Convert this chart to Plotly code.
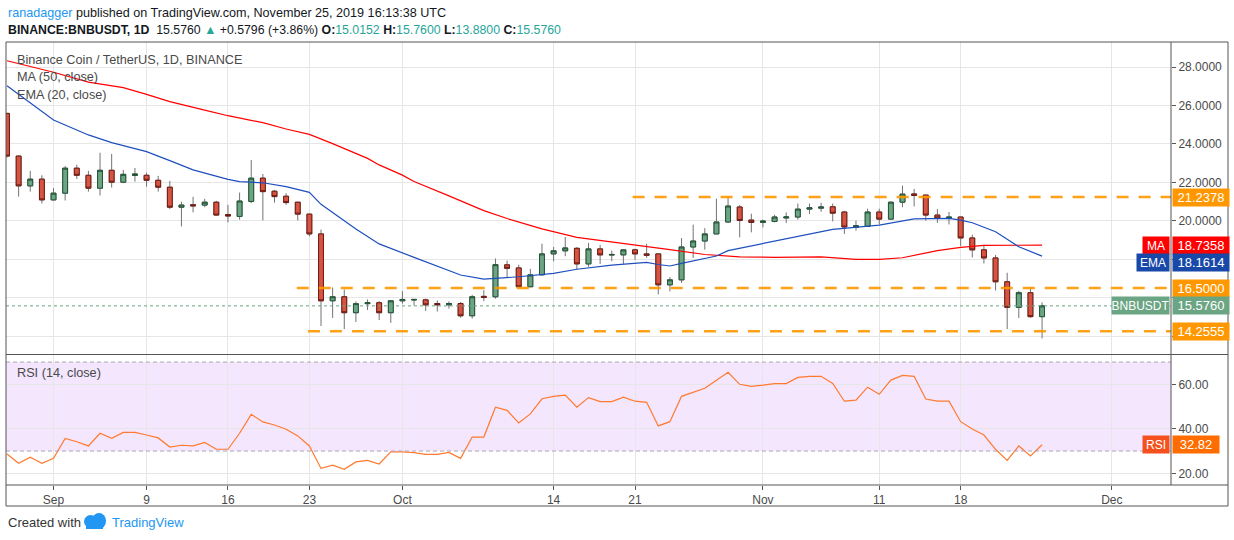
import pandas as pd
import plotly.graph_objects as go
from plotly.subplots import make_subplots

W, H = 1234, 540
FONT = "Liberation Sans"

######## daily candles BNB/USDT, Aug 28 -> Nov 25 2019
dates = pd.date_range("2019-08-28", "2019-11-25", freq="D")
opens = [25.59, 23.37, 21.82, 22.17, 21.09, 21.44, 22.74, 22.37, 21.70, 22.63,
         22.01, 22.36, 22.37, 22.11, 21.75, 20.71, 20.84, 20.82, 20.97, 20.33,
         20.23, 21.01, 22.22, 21.54, 21.28, 20.97, 20.35, 19.32, 15.84, 16.05,
         15.22, 15.69, 15.74, 15.22, 15.84, 15.88, 15.89, 15.70, 15.63, 15.70,
         15.06, 16.07, 16.05, 17.71, 17.55, 16.57, 17.19, 18.28, 18.44, 18.57,
         17.76, 18.54, 18.22, 18.23, 18.49, 18.28, 18.28, 16.67, 16.93, 18.64,
         18.95, 19.32, 19.94, 20.72, 20.04, 19.92, 19.97, 20.15, 20.20, 20.61,
         20.66, 20.73, 20.46, 19.66, 19.71, 20.46, 20.09, 20.97, 21.40, 21.34,
         20.30, 20.13, 20.20, 19.11, 18.49, 18.07, 16.83, 15.50, 16.26, 15.0152]
highs = [25.62, 23.40, 22.60, 22.37, 21.70, 22.85, 22.92, 22.60, 23.54, 23.48,
         22.65, 22.75, 22.51, 22.34, 22.08, 20.99, 21.25, 21.15, 21.04, 20.83,
         21.47, 23.17, 22.44, 21.61, 21.44, 20.97, 20.35, 19.54, 16.53, 16.43,
         15.81, 15.91, 15.82, 15.86, 16.34, 15.91, 15.95, 15.86, 15.81, 15.77,
         16.15, 16.39, 18.04, 17.93, 17.72, 17.50, 18.81, 18.64, 19.16, 18.64,
         18.85, 18.75, 18.45, 18.49, 18.55, 18.81, 18.28, 17.08, 19.10, 19.80,
         19.62, 21.15, 21.23, 20.83, 20.37, 20.06, 20.32, 20.44, 20.90, 20.90,
         20.94, 20.90, 20.52, 20.01, 20.63, 20.63, 20.99, 21.83, 21.66, 21.34,
         20.61, 20.46, 20.20, 19.28, 18.75, 18.23, 17.30, 16.36, 16.55, 15.76]
lows = [23.30, 21.26, 21.52, 20.90, 21.06, 21.06, 22.18, 21.52, 21.32, 21.73,
        21.96, 22.04, 21.78, 21.52, 20.61, 19.71, 20.44, 20.71, 20.28, 19.92,
        20.06, 20.92, 20.02, 20.95, 20.83, 20.02, 19.19, 14.53, 14.95, 14.37,
        14.74, 15.36, 14.84, 14.69, 15.69, 15.60, 15.31, 15.28, 15.43, 14.96,
        14.91, 15.82, 15.95, 17.07, 16.57, 16.57, 17.19, 17.89, 18.16, 17.47,
        17.61, 17.76, 17.90, 17.76, 17.97, 18.07, 16.18, 16.33, 16.77, 18.07,
        18.50, 19.32, 19.89, 19.14, 19.40, 19.66, 19.92, 19.89, 20.06, 20.35,
        20.47, 19.97, 19.32, 19.49, 19.68, 19.81, 20.05, 20.71, 20.75, 20.01,
        19.89, 19.81, 18.69, 18.10, 17.78, 16.38, 14.37, 14.94, 14.96, 13.88]
closes = [23.37, 21.82, 22.17, 21.09, 21.44, 22.74, 22.37, 21.70, 22.63, 22.01,
          22.42, 22.44, 22.11, 21.75, 20.71, 20.82, 20.78, 20.97, 20.30, 20.25,
          21.03, 22.22, 21.52, 21.26, 20.95, 20.35, 19.32, 15.84, 16.05, 15.22,
          15.69, 15.74, 15.22, 15.84, 15.91, 15.91, 15.63, 15.63, 15.70, 15.06,
          16.05, 16.02, 17.72, 17.53, 16.57, 17.19, 18.28, 18.44, 18.59, 17.76,
          18.54, 18.23, 18.25, 18.49, 18.28, 18.21, 16.67, 16.93, 18.64, 18.95,
          19.32, 19.94, 20.77, 20.02, 19.92, 19.99, 20.20, 20.20, 20.61, 20.68,
          20.72, 20.40, 19.68, 19.75, 20.46, 20.09, 20.97, 21.39, 21.32, 20.30,
          20.15, 20.20, 19.11, 18.49, 18.07, 16.83, 15.50, 16.26, 15.0152, 15.576]

rsi = [28.7, 24.5, 27.2, 24.5, 26.7, 35.7, 34.2, 32.3, 38.0, 35.7,
       38.4, 38.4, 37.2, 35.9, 31.8, 32.6, 32.3, 33.9, 30.8, 30.8,
       38.0, 46.5, 43.1, 41.7, 39.8, 36.8, 32.3, 22.2, 23.7, 21.8,
       25.1, 25.8, 24.2, 29.6, 29.6, 29.3, 28.5, 28.5, 29.4, 26.7,
       36.3, 36.3, 49.7, 48.3, 42.6, 46.7, 53.5, 54.6, 55.1, 49.7,
       54.0, 52.2, 52.2, 54.2, 52.4, 51.9, 41.3, 43.2, 54.6, 56.5,
       58.2, 61.8, 65.4, 60.0, 59.1, 59.6, 60.3, 60.3, 63.1, 63.6,
       63.6, 60.4, 52.4, 52.9, 58.7, 55.5, 61.9, 64.0, 63.6, 53.4,
       52.4, 52.4, 43.2, 39.9, 37.2, 30.8, 25.8, 32.3, 27.8, 32.82]

ma_dates = ["2019-08-28", "2019-08-30", "2019-09-01", "2019-09-04", "2019-09-07",
            "2019-09-09", "2019-09-11", "2019-09-14", "2019-09-16", "2019-09-19",
            "2019-09-21", "2019-09-23", "2019-09-25", "2019-09-28", "2019-09-29",
            "2019-10-01", "2019-10-02", "2019-10-05", "2019-10-08", "2019-10-10",
            "2019-10-13", "2019-10-16", "2019-10-19", "2019-10-21", "2019-10-24",
            "2019-10-27", "2019-10-30", "2019-11-02", "2019-11-06", "2019-11-09",
            "2019-11-11", "2019-11-13", "2019-11-16", "2019-11-18", "2019-11-20",
            "2019-11-25"]
ma_vals = [28.33, 28.03, 27.73, 27.22, 26.93, 26.58, 26.20, 25.76, 25.47, 25.11,
           24.78, 24.50, 24.02, 23.25, 22.91, 22.38, 22.05, 21.30, 20.53, 20.12,
           19.58, 19.14, 18.91, 18.76, 18.50, 18.25, 18.13, 18.10, 18.13, 18.00,
           18.00, 18.08, 18.45, 18.62, 18.72, 18.7358]

ema_dates = ["2019-08-28", "2019-08-30", "2019-09-01", "2019-09-02", "2019-09-04",
             "2019-09-06", "2019-09-09", "2019-09-11", "2019-09-13", "2019-09-16",
             "2019-09-17", "2019-09-19", "2019-09-21", "2019-09-23", "2019-09-24",
             "2019-09-27", "2019-09-29", "2019-10-02", "2019-10-06", "2019-10-08",
             "2019-10-11", "2019-10-14", "2019-10-16", "2019-10-19", "2019-10-22",
             "2019-10-23", "2019-10-24", "2019-10-25", "2019-10-28", "2019-10-29",
             "2019-11-01", "2019-11-04", "2019-11-07", "2019-11-11", "2019-11-14",
             "2019-11-17", "2019-11-18", "2019-11-19", "2019-11-21", "2019-11-22",
             "2019-11-23", "2019-11-25"]
ema_vals = [27.03, 26.12, 25.25, 24.99, 24.47, 24.07, 23.60, 23.13, 22.65, 22.16,
            22.04, 21.98, 21.78, 21.48, 20.86, 19.58, 18.80, 18.10, 17.18, 16.97,
            17.09, 17.27, 17.48, 17.70, 17.84, 17.73, 17.65, 17.79, 18.17, 18.45,
            18.83, 19.17, 19.56, 19.78, 20.10, 20.13, 20.04, 19.90, 19.43, 19.04,
            18.65, 18.1614]

# horizontal support / resistance lines
level_vals = [21.2378, 16.5, 14.2555]
level_starts = ["2019-10-20 19:00", "2019-09-21 22:00", "2019-09-22 21:00"]

grid_dates = ["2019-09-01", "2019-09-09", "2019-09-16", "2019-09-23", "2019-10-01",
              "2019-10-14", "2019-10-21", "2019-11-01", "2019-11-11", "2019-11-18",
              "2019-12-01"]
grid_labels = ["Sep", "9", "16", "23", "Oct", "14", "21", "Nov", "11", "18", "Dec"]

# price scale: 14/16/18 sit under the last-value boxes, so no text is shown for them
price_ticks = [14, 16, 18, 20, 22, 24, 26, 28]
price_labels = ["", "", "", "20.0000", "22.0000", "24.0000", "26.0000", "28.0000"]
##############################

UP, UP_EDGE = "#6BA583", "#225437"
DN, DN_EDGE = "#D75442", "#6F1B12"
WICK = "#737375"
ORANGE = "#FF9800"
MA_COL, EMA_COL = "#FF0000", "#1E4FBF"
RSI_COL = "#FF7A2F"
GRID = "#E6E6E6"
TXT = "#4A4A4A"

def px(x):
    return x / W

def py(y):
    return 1 - y / H

# pane geometry in pixels
L, R, TOP, SPLIT, BOT = 6, 1171, 42, 354, 485
day_px = 11.63
first = pd.Timestamp("2019-08-28")
x_range = [first + pd.Timedelta(days=(L - 7) / day_px), first + pd.Timedelta(days=(R - 7) / day_px)]
y_range = [22 - (SPLIT - 182.4) / 19.22, 22 + (182.4 - TOP) / 19.22]
rsi_range = [60 - (BOT - 384.3) / 2.225, 60 + (384.3 - (SPLIT + 1)) / 2.225]

fig = make_subplots(rows=2, cols=1, shared_xaxes=True)

# wicks (grey), then bodies on top with dark borders
fig.add_trace(go.Candlestick(
    x=dates, open=opens, high=highs, low=lows, close=closes,
    increasing=dict(line=dict(color=WICK, width=1), fillcolor=WICK),
    decreasing=dict(line=dict(color=WICK, width=1), fillcolor=WICK),
    hoverinfo="skip", name="wick"), row=1, col=1)
body_hi = [max(o, c) for o, c in zip(opens, closes)]
body_lo = [min(o, c) for o, c in zip(opens, closes)]
fig.add_trace(go.Candlestick(
    x=dates, open=opens, high=body_hi, low=body_lo, close=closes,
    increasing=dict(line=dict(color=UP_EDGE, width=1), fillcolor=UP),
    decreasing=dict(line=dict(color=DN_EDGE, width=1), fillcolor=DN),
    name="BNBUSDT"), row=1, col=1)

fig.add_trace(go.Scatter(x=ma_dates, y=ma_vals, mode="lines",
                         line=dict(color=MA_COL, width=1.2), name="MA"), row=1, col=1)
fig.add_trace(go.Scatter(x=ema_dates, y=ema_vals, mode="lines",
                         line=dict(color=EMA_COL, width=1.2), name="EMA"), row=1, col=1)

for v, s in zip(level_vals, level_starts):
    fig.add_trace(go.Scatter(x=[s, "2019-12-20"], y=[v, v], mode="lines",
                             line=dict(color=ORANGE, width=2.5, dash="12px,10px"),
                             opacity=0.9), row=1, col=1)

fig.add_trace(go.Scatter(x=dates, y=rsi, mode="lines",
                         line=dict(color=RSI_COL, width=1.2), name="RSI"), row=2, col=1)

# RSI band 30-70
fig.add_shape(type="rect", xref="paper", yref="y2", x0=px(L), x1=px(R), y0=30, y1=70,
              fillcolor="#F3E6FD", line_width=0, layer="below")
for lv in (30, 70):
    fig.add_shape(type="line", xref="paper", yref="y2", x0=px(L), x1=px(R), y0=lv, y1=lv,
                  line=dict(color="#ADA6B4", width=1, dash="4px,3px"))

# last price dotted line
fig.add_shape(type="line", xref="paper", yref="y", x0=px(L), x1=px(R), y0=closes[-1], y1=closes[-1],
              line=dict(color=UP, width=1, dash="dot"))

# frame and separators
frame = dict(color="#555555", width=1)
fig.add_shape(type="rect", xref="paper", yref="paper", x0=px(L), x1=px(1228), y0=py(506), y1=py(TOP), line=frame)
fig.add_shape(type="line", xref="paper", yref="paper", x0=px(L), x1=px(1228), y0=py(SPLIT + 0.5), y1=py(SPLIT + 0.5), line=frame)
fig.add_shape(type="line", xref="paper", yref="paper", x0=px(L), x1=px(1228), y0=py(BOT), y1=py(BOT), line=frame)
fig.add_shape(type="line", xref="paper", yref="paper", x0=px(R), x1=px(R), y0=py(BOT), y1=py(TOP), line=frame)

axfont = dict(family=FONT, size=12, color=TXT)
fig.update_layout(
    width=W, height=H, margin=dict(l=0, r=0, t=0, b=0),
    paper_bgcolor="white", plot_bgcolor="white",
    showlegend=False, boxgap=0.4,
    font=dict(family=FONT, color=TXT),
    xaxis=dict(domain=[px(L), px(R)], range=x_range, rangeslider_visible=False,
               tickvals=grid_dates, showticklabels=False, gridcolor=GRID, showline=False,
               zeroline=False),
    xaxis2=dict(domain=[px(L), px(R)], range=x_range, tickvals=grid_dates, ticktext=grid_labels,
                gridcolor=GRID, ticks="outside", ticklen=4, tickcolor="#555555",
                tickfont=axfont, showline=False, zeroline=False),
    yaxis=dict(domain=[py(SPLIT), py(TOP)], range=y_range, side="right",
               tickvals=price_ticks, ticktext=price_labels,
               gridcolor=GRID, ticks="outside", ticklen=4, tickcolor="#555555",
               tickfont=axfont, zeroline=False, showline=False),
    yaxis2=dict(domain=[py(BOT), py(SPLIT + 1)], range=rsi_range, side="right",
                tickvals=[20, 40, 60], tickformat=".2f",
                gridcolor=GRID, ticks="outside", ticklen=4, tickcolor="#555555",
                tickfont=axfont, zeroline=False, showline=False),
)

def note(x, y, text, size=12.7, color=TXT, xanchor="left"):
    fig.add_annotation(x=px(x), y=py(y), xref="paper", yref="paper", text=text, showarrow=False,
                       xanchor=xanchor, yanchor="middle", font=dict(family=FONT, size=size, color=color))

TEAL = "#26A69A"
note(6, 13, "<span style='color:#2196F3'>ranadagger</span> published on TradingView.com, November 25, 2019 16:13:38 UTC",
     size=12.6, color="#131722")
note(6, 30, "<b>BINANCE:BNBUSDT, 1D</b>  15.5760 <span style='color:%s'>▲</span> +0.5796 (+3.86%%) "
            "<b>O:</b><span style='color:%s'>15.0152</span> <b>H:</b><span style='color:%s'>15.7600</span> "
            "<b>L:</b><span style='color:%s'>13.8800</span> <b>C:</b><span style='color:%s'>15.5760</span>"
     % (TEAL, TEAL, TEAL, TEAL, TEAL), size=12.3, color="#131722")
note(15, 60, "Binance Coin / TetherUS, 1D, BINANCE")
note(15, 77, "MA (50, close)")
note(15, 95, "EMA (20, close)")
note(15, 373, "RSI (14, close)")
note(6, 522, "Created with", size=13, color="#333333")
note(110, 522, "TradingView", size=13, color="#2196F3")

# small cloud logo
fig.add_shape(type="circle", xref="paper", yref="paper", x0=px(84), x1=px(97), y0=py(528), y1=py(515),
              fillcolor="#2196F3", line_width=0)
fig.add_shape(type="circle", xref="paper", yref="paper", x0=px(92), x1=px(106), y0=py(529), y1=py(513),
              fillcolor="#2196F3", line_width=0)
fig.add_shape(type="rect", xref="paper", yref="paper", x0=px(86), x1=px(103), y0=py(529), y1=py(522),
              fillcolor="#2196F3", line_width=0)

def axis_box(y, text, color, yref="y", yshift=0, width=56):
    fig.add_annotation(x=px(R + 0.5), xref="paper", xanchor="left", y=y, yref=yref, yanchor="middle",
                       yshift=yshift, text=text, showarrow=False, bgcolor=color, width=width, height=17,
                       borderpad=0, font=dict(family=FONT, size=13, color="white"))

def name_box(y, text, color, width, yref="y", yshift=0):
    fig.add_annotation(x=px(R - 1.5), xref="paper", xanchor="right", y=y, yref=yref, yanchor="middle",
                       yshift=yshift, text=text, showarrow=False, bgcolor=color, width=width, height=17,
                       borderpad=0, font=dict(family=FONT, size=12, color="white"))

axis_box(level_vals[0], "%.4f" % level_vals[0], ORANGE)
axis_box(ma_vals[-1], "%.4f" % ma_vals[-1], MA_COL)
name_box(ma_vals[-1], "MA", MA_COL, 26)
axis_box(ema_vals[-1], "%.4f" % ema_vals[-1], "#1848A8", yshift=-6)
name_box(ema_vals[-1], "EMA", "#1848A8", 32, yshift=-6)
axis_box(level_vals[1], "%.4f" % level_vals[1], ORANGE)
axis_box(closes[-1], "%.4f" % closes[-1], UP)
name_box(closes[-1], "BNBUSDT", UP, 57)
axis_box(level_vals[2], "%.4f" % level_vals[2], ORANGE)
axis_box(rsi[-1], "%.2f" % rsi[-1], "#FF6D00", yref="y2", width=46)
name_box(rsi[-1], "RSI", "#F4511E", 26, yref="y2")

# page body has a default 8px margin; remove it so the figure sits at the window origin
fig.write_html("out.html", config={"displayModeBar": False},
               post_script="document.body.style.margin='0';")
